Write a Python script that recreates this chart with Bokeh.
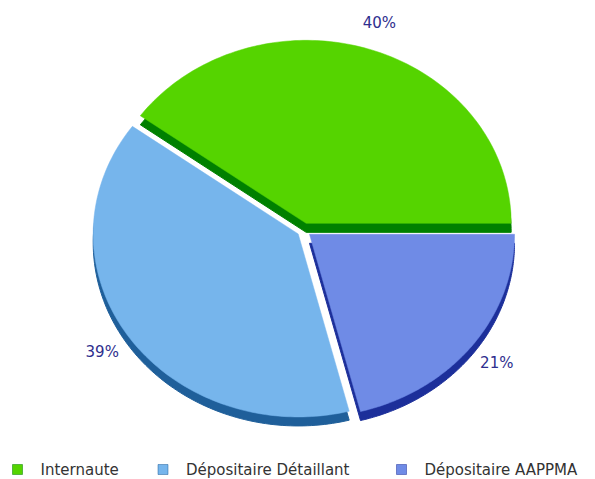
import numpy as np
from bokeh.plotting import figure
from bokeh.models import Range1d
from bokeh.embed import file_html
from bokeh.resources import INLINE
from bokeh.core.properties import value

# ---- data ----
categories = ["Internaute", "Dépositaire Détaillant", "Dépositaire AAPPMA"]
shares = [40, 39, 21]
pct_labels = ["40%", "39%", "21%"]
top_colors = ["#55d400", "#76b5ec", "#6f8be6"]
side_colors = ["#008000", "#1f5f9a", "#1c2f9a"]

# ---- layout constants ----
W, H = 595, 479
cx, cy = 303.5, 229.5      # pie centre (px, y down)
rx, ry = 205.0, 183.0      # ellipse radii
depth = 9.0
explode = 7.0
label_k = 1.19

p = figure(width=W, height=H, x_range=Range1d(0, W), y_range=Range1d(H, 0),
           output_backend="svg", toolbar_location=None, min_border=0)
p.axis.visible = False
p.grid.visible = False
p.outline_line_color = None
p.background_fill_color = "white"
p.border_fill_color = "white"

fr = np.array(shares, dtype=float) / sum(shares)
ends = np.cumsum(fr) * 2 * np.pi
starts = ends - fr * 2 * np.pi
mids = (starts + ends) / 2

xs_top, ys_top, xs_side, ys_side = [], [], [], []
for a0, a1, am in zip(starts, ends, mids):
    ox = cx + explode * np.cos(am)
    oy = cy - explode * np.sin(am)
    t = np.linspace(a0, a1, 120)
    xs = np.concatenate([[ox], ox + rx * np.cos(t)])
    ys = np.concatenate([[oy], oy - ry * np.sin(t)])
    xs_top.append(list(xs))
    ys_top.append(list(ys))
    xs_side.append(list(xs))
    ys_side.append(list(ys + depth))

p.patches(xs_side, ys_side, fill_color=side_colors, line_color=side_colors, line_width=1)
p.patches(xs_top, ys_top, fill_color=top_colors, line_color=top_colors, line_width=0.5)

# percentage labels
lx = cx + label_k * rx * np.cos(mids)
ly = cy - label_k * ry * np.sin(mids)
p.text(x=list(lx), y=list(ly), text=pct_labels, text_align="center", text_baseline="middle",
       text_font=value("DejaVu Sans"), text_font_size="15px", text_color="#2e2e8e")

# legend
leg_x = [17, 162.5, 401]
leg_y = [469, 469, 469]
p.rect(x=leg_x, y=leg_y, width=10, height=10, fill_color=top_colors,
       line_color=side_colors, line_width=0.5)
p.text(x=[v + 23 for v in leg_x], y=leg_y, text=categories, text_align="left",
       text_baseline="middle", text_font=value("DejaVu Sans"), text_font_size="15px",
       text_color="#333333")

open("out.html", "w").write(file_html(p, INLINE))
